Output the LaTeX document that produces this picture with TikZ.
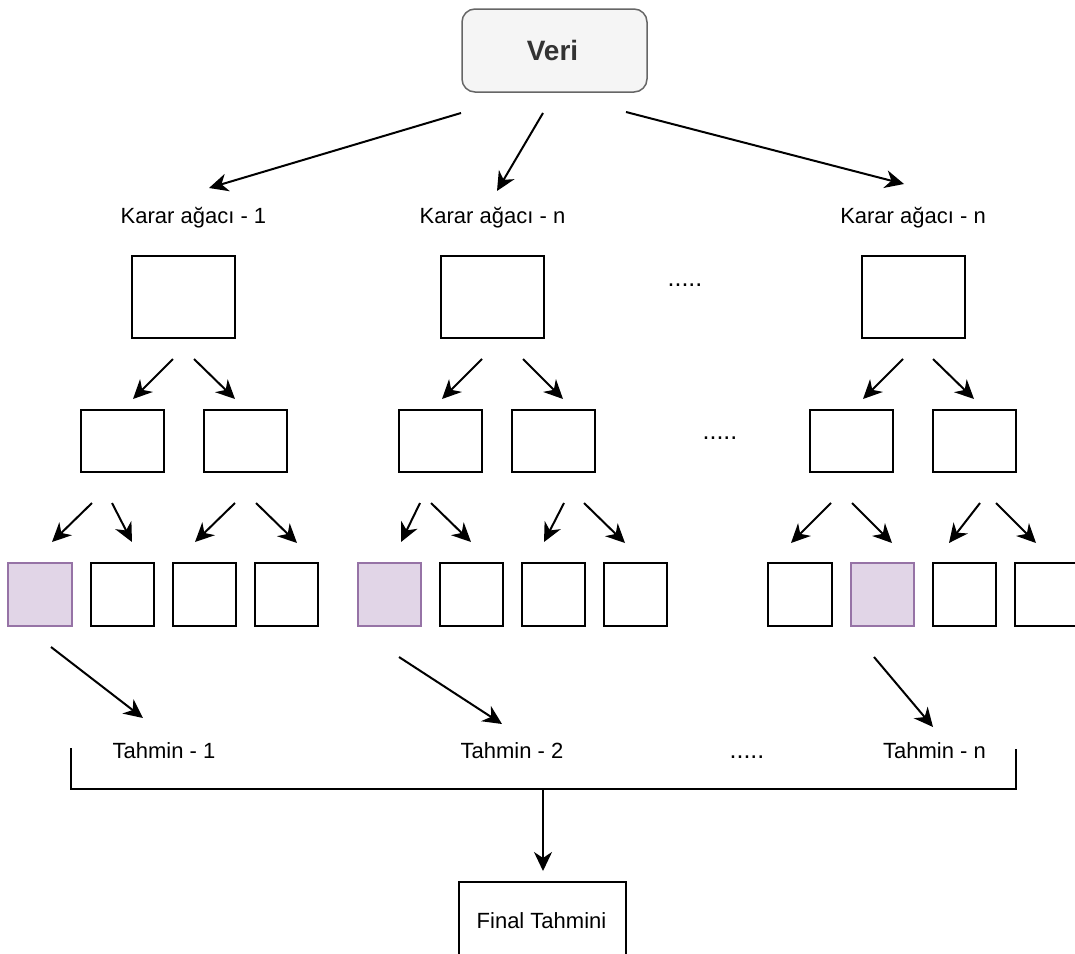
\documentclass[tikz,border=0pt]{standalone}
\usepackage{fontspec}
\setmainfont{Liberation Sans}
\usetikzlibrary{arrows.meta}
\definecolor{vfill}{HTML}{F5F5F5}
\definecolor{vdraw}{HTML}{666666}
\definecolor{vtext}{HTML}{333333}
\definecolor{pfill}{HTML}{E1D5E7}
\definecolor{pdraw}{HTML}{9673A6}
\tikzset{
  box/.style={draw=black, line width=2pt, fill=white, inner sep=0pt},
  pbox/.style={draw=pdraw, line width=2pt, fill=pfill, inner sep=0pt},
  arr/.style={draw=black, line width=2pt, -{Stealth[length=19pt,width=18pt,inset=6pt]}},
  plain/.style={draw=black, line width=2pt},
  lbl/.style={anchor=base, inner sep=0pt, font=\fontsize{22}{26}\selectfont},
  dots/.style={anchor=base, inner sep=0pt, font=\fontsize{25}{30}\selectfont},
}
\begin{document}
\begin{tikzpicture}[x=1pt,y=-1pt]
\useasboundingbox (0,0) rectangle (1075,953);
\clip (0,0) rectangle (1075,953);
\fill[white] (0,0) rectangle (1075,953);

% Veri
\node[draw=vdraw, fill=vfill, line width=1.5pt, rounded corners=13pt, inner sep=0pt,
      minimum width=185pt, minimum height=83pt] (veri) at (554.5,50.5) {};
\node[anchor=base, inner sep=0pt, text=vtext, font=\fontsize{28}{33}\selectfont\bfseries] (veritxt) at (552.5,60) {Veri};

% labels
\node[lbl] (k1) at (193.5,223) {Karar ağacı - 1};
\node[lbl] (k2) at (492.5,223) {Karar ağacı - n};
\node[lbl] (k3) at (913,223) {Karar ağacı - n};
\node[dots] (d1) at (685,286) {.....};
\node[dots] (d2) at (720,439) {.....};
\node[dots] (d3) at (747,758) {.....};
\node[lbl] (t1) at (164,758) {Tahmin - 1};
\node[lbl] (t2) at (512,758) {Tahmin - 2};
\node[lbl] (t3) at (934.5,758) {Tahmin - n};

% boxes: name/x1/x2/y1/y2
\foreach \n/\xa/\xb/\ya/\yb in {
  r1/132/235/256/338, r2/441/544/256/338, r3/862/965/256/338,
  m1a/81/164/410/472, m1b/204/287/410/472,
  m2a/399/482/410/472, m2b/512/595/410/472,
  m3a/810/893/410/472, m3b/933/1016/410/472,
  l1b/91/154/563/626, l1c/173/236/563/626, l1d/255/318/563/626,
  l2b/440/503/563/626, l2c/522/585/563/626, l2d/604/667/563/626,
  l3a/768/832/563/626, l3c/933/996/563/626, l3d/1015/1078/563/626}
{
  \node[box, minimum width={(\xb-\xa)*1pt}, minimum height={(\yb-\ya)*1pt}] (\n) at ({(\xa+\xb)/2},{(\ya+\yb)/2}) {};
}
\foreach \n/\xa/\xb/\ya/\yb in {
  l1a/8/72/563/626, l2a/358/421/563/626, l3b/851/914/563/626}
{
  \node[pbox, minimum width={(\xb-\xa)*1pt}, minimum height={(\yb-\ya)*1pt}] (\n) at ({(\xa+\xb)/2},{(\ya+\yb)/2}) {};
}

% final box
\node[box, minimum width=167pt, minimum height=76pt] (final) at (542.5,920) {};
\node[anchor=base, inner sep=0pt, font=\fontsize{22}{26}\selectfont] (finaltxt) at (541.5,928) {Final Tahmini};

% arrows
\foreach \n/\sx/\sy/\ex/\ey in {
  a1/461/113/209/188, a2/543/113/497/191, a3/626/112/904/184,
  b1/173/359/133/399, b2/194/359/235/399,
  b3/482/359/442/399, b4/523/359/563/399,
  b5/903/359/863/399, b6/933/359/974/399,
  c1/92/503/52/542, c2/112/503/132/542, c3/235/503/195/542, c4/256/503/297/543,
  c5/420/503/401/542, c6/431/503/471/542, c7/564/503/544/542, c8/584/503/625/543,
  c9/831/503/791/543, c10/852/503/892/543, c11/980/503/949/543, c12/996/503/1036/543,
  p1/51/647/143/718, p2/399/657/502/724, p3/874/657/933/727}
{
  \coordinate (s\n) at (\sx,\sy);
  \coordinate (e\n) at (\ex,\ey);
  \draw[arr] (s\n) -- (e\n);
}

% bracket
\coordinate (bl) at (71,748);
\coordinate (blc) at (71,789);
\coordinate (brc) at (1016,789);
\coordinate (br) at (1016,749);
\coordinate (bm) at (543,789);
\coordinate (fin) at (543,871);
\draw[plain] (bl) -- (blc) -- (brc) -- (br);
\draw[arr] (bm) -- (fin);
\end{tikzpicture}
\end{document}
